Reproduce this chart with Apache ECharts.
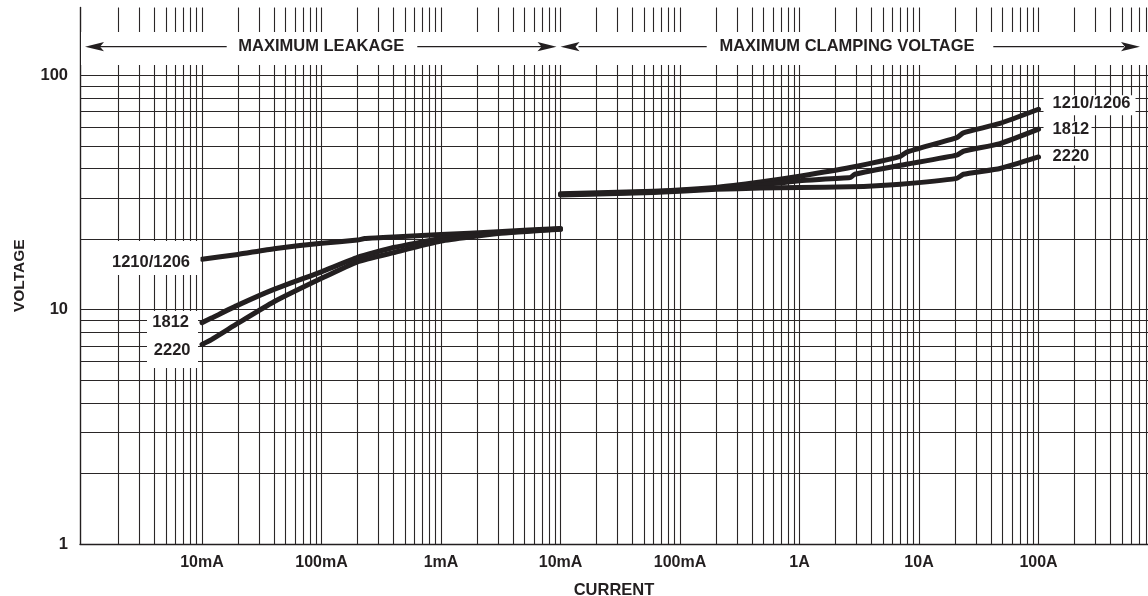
<!DOCTYPE html>
<html><head><meta charset="utf-8">
<script src="https://cdn.jsdelivr.net/npm/echarts@6/dist/echarts.min.js"></script>
<style>html,body{margin:0;padding:0;background:#fff}#c{width:1148px;height:596px}</style>
</head><body><div id="c"></div>
<script>
// ---- data (current in µA on one continuous log axis, voltage in V) ----
const tickValues = [10, 100, 1e3, 1e4, 1e5, 1e6, 1e7, 1e8];
const tickLabels = ['10mA', '100mA', '1mA', '10mA', '100mA', '1A', '10A', '100A'];
const voltTicks = [1, 10, 100];
const seriesNames = ['1210/1206', '1812', '2220'];

const leak1210 = [[10,16.4],[20,17.2],[40,18.2],[100,19.2],[200,19.8],[230,20.1],[400,20.4],[1000,20.9],[3000,21.5],[10000,22.2]];
const leak1812 = [[10,8.8],[12,9.2],[20,10.45],[40,12.2],[100,14.5],[200,16.7],[400,18.4],[1000,20.1],[3000,21.3],[10000,22.1]];
const leak2220 = [[10,7.1],[12,7.45],[20,8.75],[40,10.8],[100,13.6],[200,16.0],[400,17.5],[1000,19.6],[3000,21.1],[10000,22.0]];

const clamp1210 = [[1e4,31.2],[6e4,32.0],[2e5,33.2],[4.7e5,35.0],[1e6,37.1],[2.65e6,40.4],[7e6,45.1],[7.9e6,47.0],[2.07e7,54.2],[2.35e7,56.8],[4.76e7,62.3],[1e8,71.6]];
const clamp1812 = [[1e4,31.0],[6e4,31.8],[2e5,32.9],[4.7e5,34.0],[1e6,35.5],[2.65e6,36.6],[2.9e6,37.8],[7e6,41.3],[2.07e7,45.6],[2.35e7,47.4],[4.76e7,51.1],[1e8,58.9]];
const clamp2220 = [[1e4,30.8],[6e4,31.6],[2e5,32.6],[4.7e5,33.0],[1e6,33.2],[2.65e6,33.4],[7e6,34.3],[2.07e7,36.3],[2.35e7,37.8],[4.76e7,40.0],[1e8,44.8]];

// ---- styling / layout ----
const INK = '#231f20';
const GRIDC = '#2a2627';
const FONT = "'Liberation Sans', Arial, Helvetica, sans-serif";
const XMIN = Math.pow(10, -0.021), XMAX = Math.pow(10, 8.916);
const YMIN = 1, YMAX = Math.pow(10, 2.289);

// grid line positions (1..9 per decade)
const gridX = [];
for (let k = 0; k <= 8; k++) for (let m = 1; m <= 9; m++) {
  const v = m * Math.pow(10, k);
  if (v > XMIN * 1.05 && v <= XMAX) gridX.push(v);
}
const gridY = [];
for (let k = 0; k <= 1; k++) for (let m = 1; m <= 9; m++) {
  const v = m * Math.pow(10, k);
  if (v > 1) gridY.push(v);
}
gridY.push(100);

function labelFor(v) {
  const lv = Math.log10(v);
  for (let i = 0; i < tickValues.length; i++) {
    if (Math.abs(Math.log10(tickValues[i]) - lv) < 1e-6) return tickLabels[i];
  }
  return '';
}

const chart = echarts.init(document.getElementById('c'));
const curveStyle = { color: INK, width: 5, cap: 'round', join: 'round' };
function curve(name, data) {
  return { name, type: 'line', data, symbol: 'none', smooth: 0.15, z: 5, silent: true,
    lineStyle: curveStyle, itemStyle: { color: INK } };
}

const option = {
  animation: false,
  backgroundColor: '#fff',
  textStyle: { fontFamily: FONT },
  grid: { left: 80, right: 0, top: 7.5, bottom: 52, containLabel: false, outerBoundsMode: 'none' },
  xAxis: {
    type: 'log', logBase: 10, min: XMIN, max: XMAX,
    axisLine: { show: true, onZero: false, lineStyle: { color: INK, width: 1.4 } },
    axisTick: { show: false }, splitLine: { show: false }, minorSplitLine: { show: false },
    axisLabel: { customValues: tickValues, formatter: labelFor, color: INK, fontFamily: FONT,
      fontWeight: 'bold', fontSize: 16, margin: 11, hideOverlap: false },
    name: 'CURRENT', nameLocation: 'middle', nameGap: 38,
    nameTextStyle: { color: INK, fontFamily: FONT, fontWeight: 'bold', fontSize: 16.5 }
  },
  yAxis: {
    type: 'log', logBase: 10, min: YMIN, max: YMAX,
    axisLine: { show: true, onZero: false, lineStyle: { color: INK, width: 1.4 } },
    axisTick: { show: false }, splitLine: { show: false },
    axisLabel: { customValues: voltTicks, formatter: v => String(Math.round(v)), color: INK,
      fontFamily: FONT, fontWeight: 'bold', fontSize: 16.5, margin: 12 },
    name: 'VOLTAGE', nameLocation: 'middle', nameGap: 52, nameRotate: 90,
    nameTextStyle: { color: INK, fontFamily: FONT, fontWeight: 'bold', fontSize: 15.5 }
  },
  series: [
    { type: 'line', data: [], z: 1, silent: true,
      markLine: { silent: true, symbol: ['none', 'none'], animation: false,
        label: { show: false }, emphasis: { disabled: true },
        lineStyle: { type: 'solid', color: GRIDC, width: 1.1 },
        data: gridX.map(v => ({ xAxis: v })).concat(gridY.map(v => ({ yAxis: v })))
          .concat([{ yAxis: YMAX, lineStyle: { color: INK, width: 1.4 } }]) } },
    curve(seriesNames[0], leak1210), curve(seriesNames[1], leak1812), curve(seriesNames[2], leak2220),
    curve(seriesNames[0], clamp1210), curve(seriesNames[1], clamp1812), curve(seriesNames[2], clamp2220)
  ]
};
chart.setOption(option);

// ---- annotations ----
const P = (pt) => chart.convertToPixel({ xAxisIndex: 0, yAxisIndex: 0 }, pt);
const split = P([1e4, 10])[0];
const left = 80, right = 1148;
const bandTop = 32, bandBot = 65, ay = 46.7;
const g = [];
const txt = (text, x, y, align) => ({ type: 'text', z: 20, x, y,
  style: { text, fill: INK, font: 'bold 16.5px ' + FONT, align, verticalAlign: 'middle',
    textAlign: align, textVerticalAlign: 'middle' } });
const wrect = (x1, y1, x2, y2) => ({ type: 'rect', z: 15, shape: { x: x1, y: y1, width: x2 - x1, height: y2 - y1 },
  style: { fill: '#fff' } });
const hline = (x1, x2) => ({ type: 'line', z: 20, shape: { x1, y1: ay, x2, y2: ay }, style: { stroke: INK, lineWidth: 1.3 } });
const head = (tip, dir) => ({ type: 'polygon', z: 20,
  shape: { points: [[tip, ay], [tip + dir * 19, ay - 4.6], [tip + dir * 15, ay], [tip + dir * 19, ay + 4.6]] },
  style: { fill: INK } });

g.push(wrect(left + 1, bandTop, right, bandBot));
// leakage arrow
const leakMid = (left + split) / 2 + 1;
g.push(txt('MAXIMUM LEAKAGE', leakMid, ay, 'center'));
g.push(hline(left + 20, 226.7), head(left + 5, 1));
g.push(hline(417.3, split - 18), head(split - 4, -1));
// clamping arrow
g.push(txt('MAXIMUM CLAMPING VOLTAGE', 847, ay, 'center'));
g.push(hline(split + 18, 706.7), head(split, 1));
g.push(hline(993.3, 1124), head(1140, -1));

// curve labels
const l0 = P(leak1210[0]), l1 = P(leak1812[0]), l2 = P(leak2220[0]);
g.push(wrect(105, 241, l0[0] - 1.5, 275));
g.push(wrect(147, 311, l1[0] - 4, 368));
g.push(txt(seriesNames[0], l0[0] - 12, l0[1] + 2.7, 'right'));
g.push(txt(seriesNames[1], l1[0] - 13, l1[1] - 0.5, 'right'));
g.push(txt(seriesNames[2], l2[0] - 11.5, l2[1] + 5.7, 'right'));

const r0 = P(clamp1210[clamp1210.length - 1]), r1 = P(clamp1812[clamp1812.length - 1]), r2 = P(clamp2220[clamp2220.length - 1]);
g.push(wrect(r0[0] + 5, r0[1] - 14, r0[0] + 97, r0[1] + 6));
g.push(wrect(r1[0] + 5, r1[1] - 7.5, r1[0] + 53, r1[1] + 7.5));
g.push(wrect(r2[0] + 5, r2[1] - 8.5, r2[0] + 53, r2[1] + 8.5));
g.push(txt(seriesNames[0], r0[0] + 14, r0[1] - 5.7, 'left'));
g.push(txt(seriesNames[1], r1[0] + 14, r1[1] + 0.3, 'left'));
g.push(txt(seriesNames[2], r2[0] + 14, r2[1] - 0.7, 'left'));

chart.setOption({ graphic: { elements: g } });
</script></body></html>
